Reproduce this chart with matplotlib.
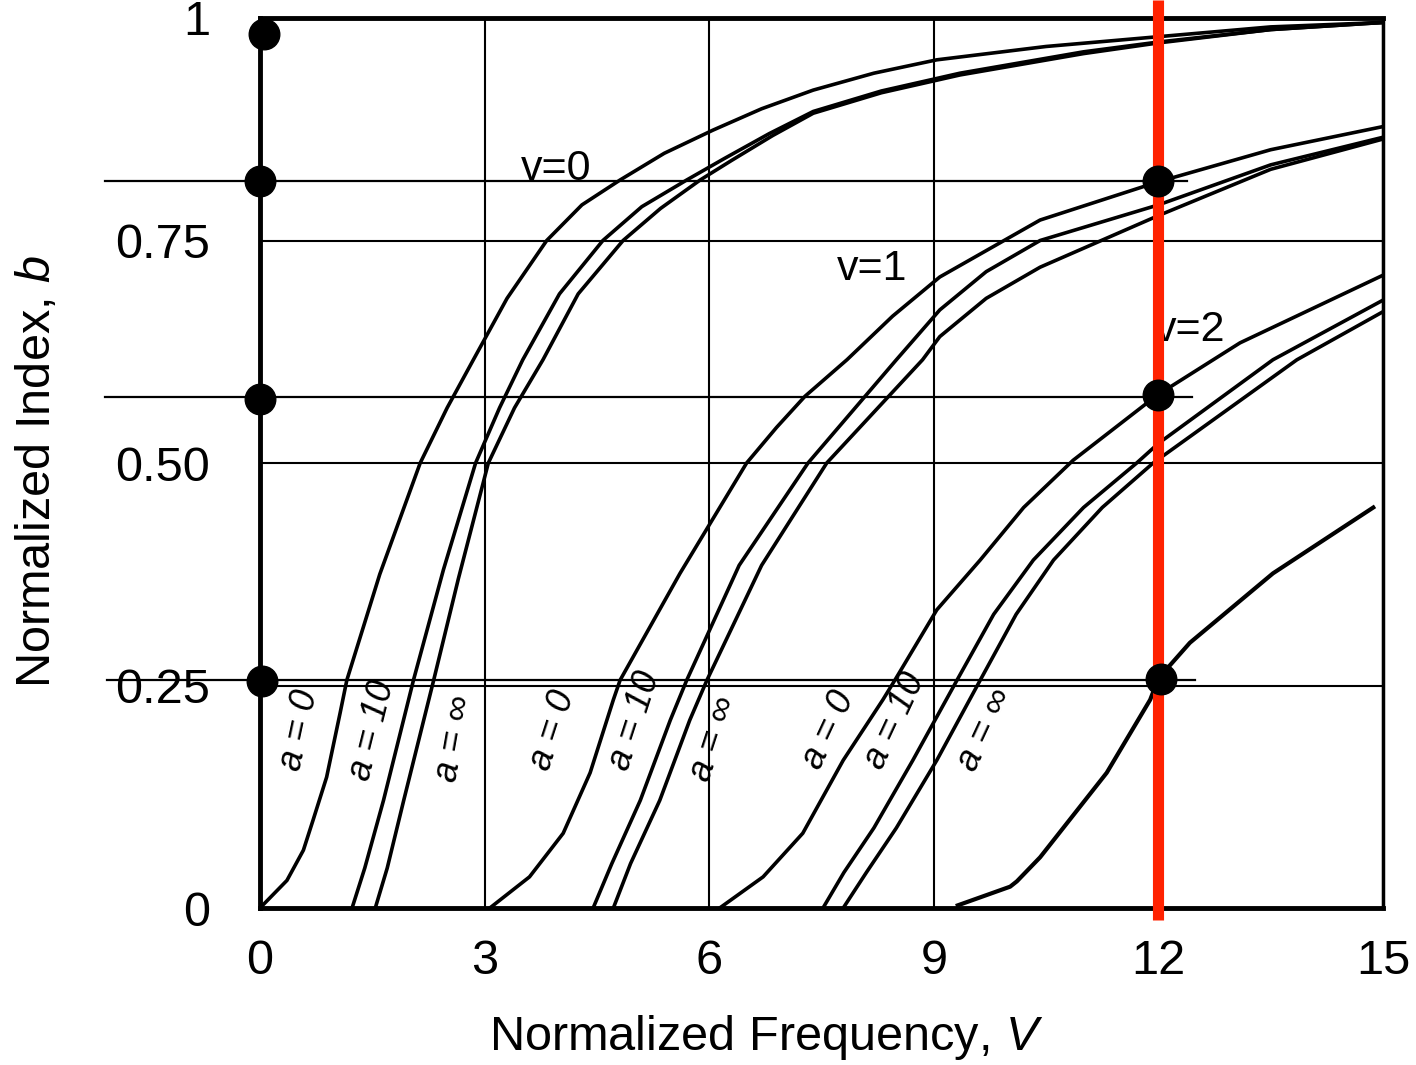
# Normalized index b vs normalized frequency V for graded-index modes, with marked read-off points

import matplotlib
matplotlib.use('Agg')
import matplotlib.pyplot as plt

# modal curves, (V, b) pairs
v0_a0_V = [0, 0.36, 0.58, 0.71, 0.89, 1.07, 1.16, 1.6, 2.14, 2.5, 2.85, 3.3, 3.83, 4.3, 4.81, 5.4, 6.05, 6.7,
           7.39, 8.2, 9.04, 10.5, 12, 13.5, 15]
v0_a0_b = [0, 0.031, 0.065, 0.099, 0.147, 0.219, 0.256, 0.375, 0.5, 0.562, 0.616, 0.685, 0.75, 0.79, 0.818, 0.848,
           0.874, 0.898, 0.919, 0.938, 0.953, 0.968, 0.979, 0.99, 0.995]
v0_a10_V = [1.23, 1.4, 1.65, 2.05, 2.45, 2.88, 3.2, 3.51, 4.0, 4.58, 5.1, 5.7, 6.2, 6.8, 7.39, 8.3, 9.35, 11, 12,
            13.5, 15]
v0_a10_b = [0, 0.045, 0.121, 0.256, 0.38, 0.5, 0.562, 0.616, 0.69, 0.75, 0.788, 0.818, 0.842, 0.87, 0.895, 0.918,
            0.938, 0.962, 0.973, 0.987, 0.995]
v0_ainf_V = [1.54, 1.7, 1.92, 2.32, 2.65, 3.05, 3.4, 3.78, 4.25, 4.85, 5.35, 5.88, 6.3, 6.85, 7.39, 8.3, 9.35, 11,
             12, 13.5, 15]
v0_ainf_b = [0, 0.045, 0.121, 0.256, 0.37, 0.5, 0.562, 0.616, 0.69, 0.75, 0.786, 0.818, 0.84, 0.868, 0.893, 0.916,
             0.936, 0.96, 0.972, 0.987, 0.995]

v1_a0_V = [3.07, 3.6, 4.05, 4.41, 4.72, 4.81, 5.61, 6.5, 6.9, 7.28, 7.84, 8.45, 9.08, 10.42, 12, 13.5, 15]
v1_a0_b = [0, 0.035, 0.084, 0.152, 0.234, 0.256, 0.376, 0.5, 0.54, 0.575, 0.616, 0.665, 0.709, 0.773, 0.816, 0.852,
           0.878]
v1_a10_V = [4.45, 4.7, 5.08, 5.48, 5.7, 6.4, 7.32, 8.5, 9.08, 9.7, 10.42, 12, 13.5, 15]
v1_a10_b = [0, 0.05, 0.121, 0.211, 0.256, 0.385, 0.5, 0.616, 0.672, 0.715, 0.75, 0.79, 0.835, 0.866]
v1_ainf_V = [4.72, 4.95, 5.34, 5.74, 5.97, 6.7, 7.57, 8.85, 9.08, 9.7, 10.42, 12, 13.5, 15]
v1_ainf_b = [0, 0.05, 0.121, 0.211, 0.256, 0.385, 0.5, 0.616, 0.642, 0.685, 0.72, 0.778, 0.83, 0.864]

v2_a0_V = [6.14, 6.72, 7.25, 7.79, 8.32, 8.48, 9.04, 9.62, 10.2, 10.86, 11.98, 13.09, 15]
v2_a0_b = [0, 0.035, 0.084, 0.166, 0.234, 0.256, 0.335, 0.391, 0.45, 0.503, 0.576, 0.635, 0.711]
v2_a10_V = [7.52, 7.8, 8.2, 8.72, 9.31, 9.8, 10.33, 11.0, 11.71, 12, 13.53, 15]
v2_a10_b = [0, 0.04, 0.09, 0.166, 0.256, 0.33, 0.391, 0.45, 0.5, 0.522, 0.616, 0.683]
v2_ainf_V = [7.79, 8.1, 8.5, 9.04, 9.62, 10.1, 10.6, 11.25, 11.93, 13.85, 15]
v2_ainf_b = [0, 0.04, 0.09, 0.166, 0.256, 0.33, 0.391, 0.45, 0.5, 0.616, 0.67]

# hand drawn extra curve
sketch_V = [9.32, 10.02, 10.11, 10.42, 11.31, 11.89, 12.0, 12.42, 13.53, 14.87]
sketch_b = [0.003, 0.024, 0.03, 0.057, 0.152, 0.234, 0.258, 0.298, 0.376, 0.45]

# marked read-off points and guide lines
dot_V = [0.05, 0, 0, 0.03, 12, 12, 12.03]
dot_b = [0.982, 0.817, 0.572, 0.255, 0.817, 0.576, 0.257]
guide_b = [0.817, 0.574, 0.256]
guide_V0 = [-2.07, -2.07, -2.04]
guide_V1 = [12.38, 12.45, 12.49]
red_V = 12
red_b = (-0.014, 1.02)

x_ticks = [0, 3, 6, 9, 12, 15]
y_ticks = [0, 0.25, 0.5, 0.75, 1]
y_ticklabels = ['0', '0.25', '0.50', '0.75', '1']

mode_names = ['v=0', 'v=1', 'v=2']
a_names = ['a = 0', 'a = 10', 'a = \u221e']

plt.rcParams['font.family'] = ['Liberation Sans', 'DejaVu Sans']
plt.rcParams['mathtext.fontset'] = 'custom'
plt.rcParams['mathtext.it'] = 'Liberation Sans:italic'

fig = plt.figure(figsize=(14.16, 10.65), dpi=100)
ax = fig.add_axes((0.1836, 0.1474, 0.9767 - 0.1836, 0.9831 - 0.1474))

curves = [(v0_a0_V, v0_a0_b), (v0_a10_V, v0_a10_b), (v0_ainf_V, v0_ainf_b),
          (v1_a0_V, v1_a0_b), (v1_a10_V, v1_a10_b), (v1_ainf_V, v1_ainf_b),
          (v2_a0_V, v2_a0_b), (v2_a10_V, v2_a10_b), (v2_ainf_V, v2_ainf_b)]
for V, b in curves:
    ax.plot(V, b, color='black', lw=2.6, zorder=3, solid_joinstyle='round', solid_capstyle='round')

ax.plot(sketch_V, sketch_b, color='black', lw=3.0, zorder=4, solid_joinstyle='round')

for yb, x0, x1 in zip(guide_b, guide_V0, guide_V1):
    ax.plot([x0, x1], [yb, yb], color='black', lw=1.6, zorder=4, clip_on=False)

ax.plot([red_V, red_V], red_b, color='#ff2200', lw=8, zorder=5, clip_on=False, solid_capstyle='butt')
ax.plot(dot_V, dot_b, 'o', color='black', ms=22, zorder=6, clip_on=False)

# mode labels
for name, (x, y) in zip(mode_names, [(3.95, 0.83), (8.17, 0.718), (12.42, 0.649)]):
    ax.text(x, y, name, fontsize=31, ha='center', va='center', zorder=4)

# cut-off labels along the curves
label_pos = [(0.53, 0.2), (1.5, 0.2), (2.6, 0.19),
             (3.91, 0.2), (5.0, 0.21), (6.05, 0.19),
             (7.6, 0.2), (8.48, 0.21), (9.68, 0.2)]
label_rot = [78, 76, 80, 72, 72, 72, 65, 65, 65]
for i, ((x, y), rot) in enumerate(zip(label_pos, label_rot)):
    ax.text(x, y, a_names[i % 3], fontsize=26, style='italic', rotation=rot,
            ha='center', va='center', rotation_mode='anchor', zorder=4)

ax.set_xlim(0, 15)
ax.set_ylim(0, 1)
ax.set_xticks(x_ticks)
ax.set_yticks(y_ticks)
ax.set_yticklabels(y_ticklabels)
ax.tick_params(length=0, labelsize=35)
ax.tick_params(axis='y', pad=36)
ax.tick_params(axis='x', pad=22)
ax.grid(True, color='black', lw=1.5)
ax.set_axisbelow(True)
for side in ['left', 'top', 'bottom']:
    ax.spines[side].set_linewidth(3.5)
ax.spines['right'].set_linewidth(2.5)

ax.set_xlabel('Normalized Frequency, $V$', fontsize=35, va='center')
ax.xaxis.set_label_coords(0.451, -0.145)
ax.set_ylabel('Normalized Index, $b$', fontsize=35, va='center')
ax.yaxis.set_label_coords(-0.198, 0.49)

fig.savefig('out.png', dpi=100)
